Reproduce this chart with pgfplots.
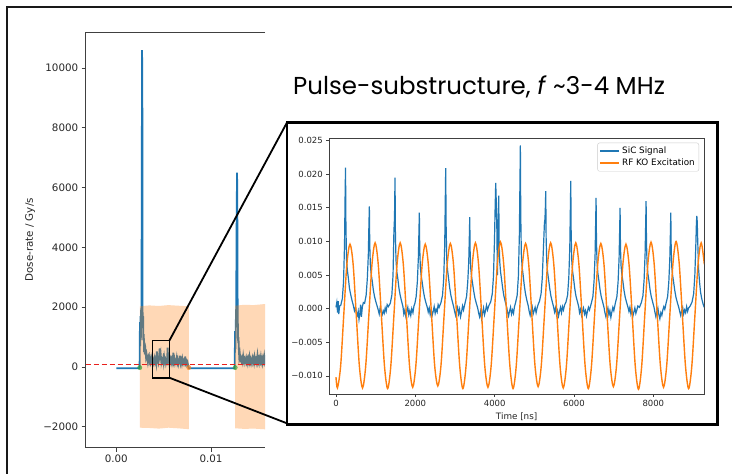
\documentclass[border=0pt]{standalone}
\usepackage{fontspec}
\setmainfont{DejaVu Sans}
\newfontfamily\titlefont{Poppins}
\usepackage{pgfplots}
\usepackage{pgfplotstable}
\pgfplotsset{compat=1.18}
\definecolor{mblue}{HTML}{1F77B4}
\definecolor{morange}{HTML}{FF7F0E}
\definecolor{mgreen}{HTML}{2CA02C}
\definecolor{mred}{HTML}{E8201C}

\pgfplotstableread{
x y
0 0.0002
20 0.0009
40 -0.0006
55 0.0011
70 -0.0008
90 0.0004
120 0.0005
160 0.0015
190 0.0040
215 0.0095
230 0.0170
240 0.0210
250 0.0125
265 0.0073
285 0.0058
310 0.0046
340 0.0030
370 0.0021
405 0.0012
440 0.0004
465 -0.0003
490 0.0002
515 -0.0006
540 -0.0010
560 -0.0004
580 -0.0016
600 -0.0008
620 0.0006
640 -0.0012
665 0.0003
690 0.0009
721 0.0008
760 0.0020
790 0.0045
815 0.0080
830 0.0125
841 0.0152
851 0.0095
866 0.0065
886 0.0052
911 0.0042
941 0.0028
971 0.0018
1006 0.0010
1041 0.0003
1065 -0.0002
1090 -0.0008
1115 0.0002
1140 -0.0005
1165 -0.0009
1190 -0.0003
1215 -0.0007
1240 0.0001
1265 -0.0004
1290 0.0006
1320 0.0003
1368 0.0008
1408 0.0020
1438 0.0050
1460 0.0115
1475 0.0135
1488 0.0195
1498 0.0110
1513 0.0072
1533 0.0055
1558 0.0045
1588 0.0030
1618 0.0020
1653 0.0011
1688 0.0003
1710 -0.0008
1735 -0.0002
1760 -0.0011
1785 -0.0004
1810 0.0002
1835 -0.0009
1860 -0.0003
1885 -0.0010
1910 0.0000
1940 -0.0006
1965 0.0004
1990 0.0008
2021 0.0018
2051 0.0040
2076 0.0075
2091 0.0115
2101 0.0143
2111 0.0090
2126 0.0062
2146 0.0050
2171 0.0040
2201 0.0027
2231 0.0017
2266 0.0009
2301 0.0002
2325 -0.0005
2350 0.0001
2375 -0.0009
2400 -0.0002
2425 -0.0010
2450 -0.0004
2475 0.0003
2500 -0.0007
2525 -0.0001
2550 -0.0005
2575 0.0006
2600 0.0002
2646 0.0009
2686 0.0020
2716 0.0045
2741 0.0095
2756 0.0165
2766 0.0209
2776 0.0125
2791 0.0075
2811 0.0058
2836 0.0046
2866 0.0031
2896 0.0020
2931 0.0011
2966 0.0003
2990 -0.0004
3015 -0.0010
3040 -0.0003
3065 0.0002
3090 -0.0008
3115 -0.0001
3140 -0.0012
3165 -0.0005
3190 0.0004
3215 -0.0002
3252 0.0008
3292 0.0018
3322 0.0040
3347 0.0070
3362 0.0108
3372 0.0136
3382 0.0085
3397 0.0060
3417 0.0048
3442 0.0038
3472 0.0026
3502 0.0016
3537 0.0008
3572 0.0001
3595 -0.0006
3620 -0.0012
3645 -0.0004
3670 -0.0015
3695 -0.0007
3720 0.0001
3745 -0.0009
3770 -0.0003
3795 0.0005
3820 -0.0002
3850 0.0004
3900 0.0010
3940 0.0022
3970 0.0048
3995 0.0100
4012 0.0150
4027 0.0187
4040 0.0160
4055 0.0120
4069 0.0050
4085 0.0120
4103 0.0168
4113 0.0100
4128 0.0070
4148 0.0055
4173 0.0044
4203 0.0030
4233 0.0019
4268 0.0010
4303 0.0002
4325 -0.0005
4350 -0.0011
4375 -0.0004
4400 0.0002
4425 -0.0008
4450 -0.0002
4475 -0.0007
4500 0.0003
4528 0.0009
4568 0.0020
4598 0.0048
4623 0.0110
4638 0.0190
4648 0.0243
4658 0.0140
4673 0.0080
4693 0.0062
4718 0.0050
4748 0.0034
4778 0.0022
4813 0.0012
4848 0.0004
4870 -0.0004
4895 -0.0010
4920 -0.0002
4945 0.0003
4970 -0.0008
4995 -0.0003
5020 0.0002
5045 -0.0006
5070 0.0001
5095 0.0006
5130 0.0011
5170 0.0022
5200 0.0045
5230 0.0090
5255 0.0128
5268 0.0133
5278 0.0150
5288 0.0175
5298 0.0105
5313 0.0070
5333 0.0055
5358 0.0044
5388 0.0030
5418 0.0019
5453 0.0010
5488 0.0002
5510 -0.0005
5535 0.0001
5560 -0.0009
5585 -0.0003
5610 -0.0011
5635 -0.0004
5660 0.0002
5685 -0.0006
5710 0.0003
5735 -0.0002
5760 0.0005
5799 0.0010
5839 0.0020
5869 0.0046
5894 0.0090
5909 0.0150
5919 0.0190
5929 0.0112
5944 0.0072
5964 0.0056
5989 0.0045
6019 0.0030
6049 0.0019
6084 0.0011
6119 0.0003
6140 -0.0006
6165 -0.0001
6190 -0.0010
6215 -0.0004
6240 0.0001
6265 -0.0008
6290 -0.0003
6315 -0.0011
6340 -0.0004
6365 0.0002
6390 -0.0002
6437 0.0008
6477 0.0018
6507 0.0042
6532 0.0080
6547 0.0130
6557 0.0165
6567 0.0100
6582 0.0068
6602 0.0053
6627 0.0042
6657 0.0028
6687 0.0018
6722 0.0010
6757 0.0002
6780 -0.0006
6805 -0.0012
6830 -0.0005
6855 0.0001
6880 -0.0009
6905 -0.0003
6930 -0.0013
6955 -0.0005
6980 0.0002
7005 -0.0003
7042 0.0008
7082 0.0018
7112 0.0040
7137 0.0075
7152 0.0118
7162 0.0150
7172 0.0092
7187 0.0064
7207 0.0051
7232 0.0041
7262 0.0027
7292 0.0017
7327 0.0009
7362 0.0002
7385 -0.0004
7410 0.0002
7435 -0.0008
7460 -0.0002
7485 -0.0011
7510 -0.0005
7535 0.0001
7560 -0.0007
7585 -0.0002
7610 0.0004
7650 0.0002
7698 0.0009
7738 0.0019
7768 0.0043
7793 0.0082
7808 0.0128
7818 0.0160
7828 0.0098
7843 0.0066
7863 0.0052
7888 0.0042
7918 0.0028
7948 0.0018
7983 0.0010
8018 0.0002
8040 -0.0005
8065 -0.0012
8090 -0.0004
8115 0.0001
8140 -0.0009
8165 -0.0015
8190 -0.0006
8215 -0.0010
8240 -0.0002
8265 0.0003
8290 -0.0001
8321 0.0008
8361 0.0018
8391 0.0040
8416 0.0074
8431 0.0113
8441 0.0143
8451 0.0088
8466 0.0062
8486 0.0050
8511 0.0040
8541 0.0027
8571 0.0017
8606 0.0009
8641 0.0002
8665 -0.0004
8690 -0.0010
8715 -0.0003
8740 0.0002
8765 -0.0008
8790 -0.0002
8815 -0.0006
8840 0.0003
8865 -0.0004
8890 0.0001
8930 0.0004
8977 0.0010
9017 0.0022
9047 0.0050
9072 0.0095
9087 0.0128
9097 0.0138
9107 0.0130
9120 0.0100
9140 0.0060
9165 0.0040
9190 0.0025
9220 0.0015
9250 0.0008
9281 0.0002
}\sicdata

\pgfplotstableread{
x y
0 -0.0102
37 -0.0118
116 -0.0086
195 -0.0010
274 0.0066
353 0.0096
432 0.0066
511 -0.0010
590 -0.0086
669 -0.0118
748 -0.0086
828 -0.0010
907 0.0066
986 0.0098
1065 0.0066
1144 -0.0010
1223 -0.0086
1302 -0.0119
1381 -0.0086
1460 -0.0010
1539 0.0066
1618 0.0098
1697 0.0066
1776 -0.0010
1855 -0.0086
1934 -0.0117
2013 -0.0085
2092 -0.0010
2171 0.0065
2250 0.0096
2329 0.0065
2409 -0.0010
2488 -0.0085
2567 -0.0115
2646 -0.0085
2725 -0.0010
2804 0.0066
2883 0.0097
2962 0.0066
3041 -0.0010
3120 -0.0086
3199 -0.0119
3278 -0.0086
3357 -0.0010
3436 0.0066
3515 0.0098
3594 0.0066
3673 -0.0010
3752 -0.0086
3831 -0.0117
3910 -0.0086
3990 -0.0010
4069 0.0067
4148 0.0099
4227 0.0067
4306 -0.0010
4385 -0.0086
4464 -0.0119
4543 -0.0086
4622 -0.0010
4701 0.0066
4780 0.0097
4859 0.0066
4938 -0.0010
5017 -0.0085
5096 -0.0116
5175 -0.0085
5254 -0.0010
5333 0.0066
5412 0.0098
5491 0.0066
5571 -0.0010
5650 -0.0086
5729 -0.0118
5808 -0.0086
5887 -0.0010
5966 0.0066
6045 0.0098
6124 0.0066
6203 -0.0010
6282 -0.0086
6361 -0.0119
6440 -0.0086
6519 -0.0010
6598 0.0066
6677 0.0097
6756 0.0066
6835 -0.0010
6914 -0.0085
6993 -0.0116
7072 -0.0085
7152 -0.0010
7231 0.0065
7310 0.0096
7389 0.0065
7468 -0.0010
7547 -0.0087
7626 -0.0120
7705 -0.0087
7784 -0.0010
7863 0.0067
7942 0.0099
8021 0.0067
8100 -0.0010
8179 -0.0085
8258 -0.0117
8337 -0.0085
8416 -0.0010
8495 0.0067
8574 0.0100
8653 0.0067
8733 -0.0010
8812 -0.0086
8891 -0.0119
8970 -0.0086
9049 -0.0010
9128 0.0066
9207 0.0098
9286 0.0066
}\rfdata

\begin{document}
\begin{tikzpicture}
\fill[white] (0pt,0pt) rectangle (732pt,474pt);
\draw[line width=2pt, black!90] (7pt,0pt) -- (7pt,467pt) -- (732pt,467pt);

% ---------- left overview axis ----------
\begin{axis}[
  at={(85.7pt,26.3pt)}, anchor=south west,
  scale only axis, width=179.3pt, height=415.7pt,
  xmin=-0.00323, xmax=0.0157, ymin=-2699, ymax=11204,
  axis line style={draw=none},
  tick pos=left, tick align=outside,
  major tick length=4pt,
  tick style={black!75, line width=0.8pt},
  scaled ticks=false,
  xtick={0,0.01}, xticklabels={0.00,0.01},
  ytick={-2000,0,2000,4000,6000,8000,10000},
  yticklabels={−2000,0,2000,4000,6000,8000,10000},
  /pgf/number format/assume math mode=true,
  ticklabel style={font=\fontsize{10.3}{12}\selectfont, text=black!85},
  ylabel={Dose-rate / Gy/s},
  ylabel style={at={(axis description cs:-0.31,0.5)}, anchor=center, font=\fontsize{10.3}{12}\selectfont, text=black!85},
  clip mode=individual,
]
\addplot[mblue, line width=1.8pt] coordinates {
(0,-40) (0.00246,-40) (0.00250,1500) (0.00253,700) (0.00256,1700) (0.00259,900) (0.00262,1900) (0.00266,2000) (0.00269,6000) (0.00272,10600) (0.00275,9000) (0.00277,2000) (0.0028,1300) (0.00283,1700) (0.00286,900) (0.0029,1100)
(0.00294,500) (0.00298,750) (0.00302,420) (0.00308,560) (0.00314,330) (0.0032,420) (0.00326,300) (0.00332,180) (0.00338,360) (0.00344,400) (0.0035,200) (0.00356,280) (0.00362,150) (0.00368,230) (0.00374,320) (0.0038,180) (0.00386,250) (0.00392,140) (0.00398,220) (0.00404,300) (0.0041,160) (0.00416,240) (0.00422,130) (0.00428,520) (0.00434,200) (0.0044,260) (0.00446,160) (0.00452,300) (0.00458,620) (0.00464,220) (0.0047,380) (0.00476,150) (0.00482,240) (0.00488,180) (0.00494,280) (0.005,140) (0.00506,320) (0.00512,180) (0.00518,240) (0.00524,120) (0.0053,210) (0.00536,170) (0.00542,650) (0.00548,230) (0.00554,300) (0.0056,140) (0.00566,220) (0.00572,280) (0.00578,160) (0.00584,240) (0.0059,120) (0.00596,200) (0.00602,480) (0.00608,180) (0.00614,260) (0.0062,130) (0.00626,210) (0.00632,170) (0.00638,300) (0.00644,150) (0.0065,240) (0.00656,110) (0.00662,200) (0.00668,160) (0.00674,380) (0.0068,140) (0.00686,220) (0.00692,120) (0.00698,260) (0.00704,150) (0.0071,200) (0.00716,110) (0.00722,170) (0.00728,350) (0.00734,130) (0.0074,180) (0.00746,90) (0.00752,150) (0.00758,60) (0.00764,-40)
(0.0125,-40) (0.01254,1200) (0.01258,600) (0.01262,1500) (0.01266,2000) (0.01271,5000) (0.01275,6500) (0.01278,5000) (0.01281,2000) (0.01284,1300) (0.01287,800) (0.0129,1000) (0.01294,600)
(0.01298,350) (0.01304,450) (0.0131,250) (0.01316,300) (0.01322,200) (0.01328,280) (0.01334,180) (0.0134,350) (0.01346,200) (0.01352,260) (0.01358,150) (0.01364,240) (0.0137,310) (0.01376,170) (0.01382,250) (0.01388,140) (0.01394,280) (0.014,200) (0.01406,330) (0.01412,160) (0.01418,240) (0.01424,130) (0.0143,220) (0.01436,300) (0.01442,170) (0.01448,260) (0.01454,150) (0.0146,320) (0.01466,190) (0.01472,250) (0.01478,140) (0.01484,230) (0.0149,380) (0.01496,170) (0.01502,260) (0.01508,150) (0.01514,280) (0.0152,200) (0.01526,330) (0.01532,170) (0.01538,250) (0.01544,140) (0.0155,290) (0.01556,210) (0.01562,350) (0.01568,180) (0.01574,260) (0.0158,200)
};
\addplot[draw=none, fill=morange, fill opacity=0.3] coordinates {
(0.00248,-2030) (0.00248,2030) (0.0035,2060) (0.0045,2040) (0.0055,2070) (0.0065,2050) (0.00766,2030) (0.00766,-2080) (0.0065,-2050) (0.0055,-2030) (0.0045,-2060) (0.0035,-2040)
} -- cycle;
\addplot[draw=none, fill=morange, fill opacity=0.3] coordinates {
(0.01255,-2050) (0.01255,2050) (0.0135,2080) (0.0145,2070) (0.0155,2100) (0.0165,2100) (0.0165,-2100) (0.0155,-2080) (0.0145,-2060) (0.0135,-2070)
} -- cycle;
\addplot[only marks, mark=*, mark size=2.2pt, mgreen, opacity=0.6] coordinates {(0.00248,-20) (0.01255,-20)};
\addplot[only marks, mark=*, mark size=2.2pt, morange, opacity=0.6] coordinates {(0.00766,-20)};
\addplot[mred, line width=1.4pt, dash pattern=on 5.5pt off 2.5pt] coordinates {(-0.00323,80) (0.0157,80)};
\draw[black!75, line width=0.9pt] (rel axis cs:1,1) -- (rel axis cs:0,1) -- (rel axis cs:0,0) -- (rel axis cs:1,0);
\draw[black, line width=1.6pt] (axis cs:0.00384,-358) rectangle (axis cs:0.0056,880);
\coordinate (zrA) at (axis cs:0.0056,880);
\coordinate (zrB) at (axis cs:0.0056,-358);
\end{axis}

% connectors
\draw[black, line width=1.8pt] (zrA) -- (287pt,351.5pt);
\draw[black, line width=1.8pt] (zrB) -- (290pt,49.5pt);

% title
\node[anchor=base west, inner sep=0pt, font=\titlefont\fontsize{24.5}{28}\selectfont, text=black] at (293pt,379.7pt)
  {Pulse-substructure, \textit{f} \textasciitilde3-4 MHz};

% inset frame
\fill[white] (287pt,351.5pt) rectangle (717.5pt,49.5pt);
\draw[black, line width=2.5pt] (287pt,351.5pt) rectangle (717.5pt,49.5pt);

% ---------- inset axis ----------
\begin{axis}[
  at={(329.3pt,80pt)}, anchor=south west,
  scale only axis, width=374.7pt, height=255.7pt,
  xmin=-169, xmax=9278, ymin=-0.0127, ymax=0.02535,
  axis line style={black!75, line width=0.7pt},
  tick pos=left, tick align=outside,
  major tick length=3pt,
  tick style={black!75, line width=0.7pt},
  scaled ticks=false,
  xtick={0,2000,4000,6000,8000}, xticklabels={0,2000,4000,6000,8000},
  ytick={-0.010,-0.005,0,0.005,0.010,0.015,0.020,0.025},
  yticklabels={−0.010,−0.005,0.000,0.005,0.010,0.015,0.020,0.025},
  /pgf/number format/assume math mode=true,
  ticklabel style={font=\fontsize{8.5}{10}\selectfont, text=black!85},
  xlabel={Time [ns]},
  xlabel style={at={(axis description cs:0.5,-0.089)}, anchor=center, font=\fontsize{8.8}{10}\selectfont, text=black!85},
  legend style={at={(1,1)}, anchor=north east, xshift=-5pt, yshift=-4.4pt,
    draw=black!20, rounded corners=2pt, fill=white,
    font=\fontsize{8.8}{10.5}\selectfont, inner sep=2pt, row sep=0pt},
  legend cell align=left,
  legend image code/.code={\draw[#1] (0pt,0pt) -- (19pt,0pt);},
]
\addplot[mblue, line width=1.2pt, forget plot] table {\sicdata};
\addplot[morange, line width=1.4pt, smooth, forget plot] table {\rfdata};
\addlegendimage{draw=mblue, line width=1.6pt}
\addlegendentry{SiC Signal}
\addlegendimage{draw=morange, line width=1.6pt}
\addlegendentry{RF KO Excitation}
\end{axis}
\pgfresetboundingbox
\useasboundingbox (0pt,0pt) rectangle (732pt,474pt);
\end{tikzpicture}
\end{document}
